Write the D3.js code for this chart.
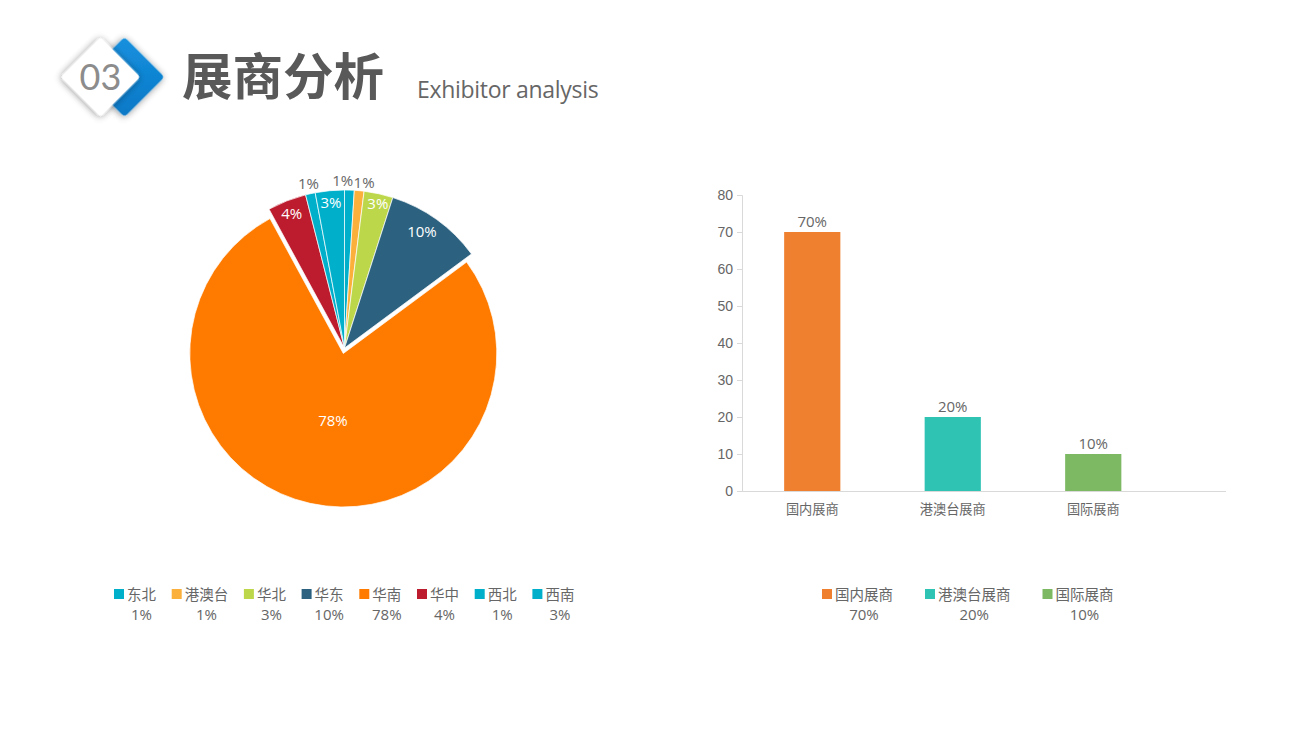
<!DOCTYPE html>
<html>
<head>
<meta charset="utf-8">
<script src="https://cdn.jsdelivr.net/npm/d3@7.9.0/dist/d3.min.js"></script>
<style>
  html, body { margin: 0; padding: 0; background: #fff; overflow: hidden; }
  text { font-family: "Open Sans", "Noto Sans CJK SC", sans-serif; fill: #666; }
  .cjk { font-family: "Noto Sans CJK SC", sans-serif; }
</style>
</head>
<body>
<svg id="chart" width="1300" height="730"></svg>
<script>
const regions = ['东北', '港澳台', '华北', '华东', '华南', '华中', '西北', '西南'];
const regionValues = [1, 1, 3, 10, 78, 4, 1, 3];
const regionColors = ['#00b0cb', '#fbb03b', '#bdd74b', '#2c6280', '#ff7b00', '#bc1c2e', '#00b0cb', '#00b0cb'];

const exhibitorTypes = ['国内展商', '港澳台展商', '国际展商'];
const exhibitorValues = [70, 20, 10];
const exhibitorColors = ['#ef8030', '#2fc3b4', '#7db963'];
const yTicks = [0, 10, 20, 30, 40, 50, 60, 70, 80];

const svg = d3.select('#chart');
const defs = svg.append('defs');

const shadow = defs.append('filter').attr('id', 'shadow')
  .attr('x', '-30%').attr('y', '-30%').attr('width', '160%').attr('height', '160%');
shadow.append('feDropShadow').attr('dx', 0).attr('dy', 1).attr('stdDeviation', 3.5)
  .attr('flood-color', '#000').attr('flood-opacity', 0.45);

const blue = defs.append('linearGradient').attr('id', 'blue')
  .attr('x1', 0).attr('y1', 0).attr('x2', 1).attr('y2', 1);
blue.append('stop').attr('offset', '0%').attr('stop-color', '#1590de');
blue.append('stop').attr('offset', '100%').attr('stop-color', '#0b78c6');

function diamond(cx, cy, half, fill) {
  const side = half * Math.SQRT2;
  svg.append('rect')
    .attr('x', -side / 2).attr('y', -side / 2)
    .attr('width', side).attr('height', side)
    .attr('rx', 4)
    .attr('transform', `translate(${cx},${cy}) rotate(45)`)
    .attr('fill', fill)
    .attr('filter', 'url(#shadow)');
}

// header
diamond(124.5, 77, 40, 'url(#blue)');
diamond(100.5, 77, 40, '#fff');
svg.append('text').attr('x', 100.5).attr('y', 90)
  .attr('text-anchor', 'middle').attr('font-size', 36)
  .style('font-family', 'Lato, "Open Sans", sans-serif').style('fill', '#8c8c8c')
  .text('03');
svg.append('text').attr('class', 'cjk').attr('x', 182).attr('y', 95)
  .attr('font-size', 50.5).attr('font-weight', 700).style('fill', '#595959').text('展商分析');
svg.append('text').attr('x', 417).attr('y', 98)
  .attr('font-size', 23).attr('letter-spacing', -0.3).text('Exhibitor analysis');

// pie
const pieCenter = [344.5, 348];
const pieRadius = 158;
const bigRadius = 153.5;
const bigOffset = 5.6;
const pie = d3.pie().sort(null).value(d => d);
const arc = d3.arc().innerRadius(0).outerRadius(d => d.value > 50 ? bigRadius : pieRadius);
const arcs = pie(regionValues);

// hand tweaks for the percent labels, by slice
const labelNudge = [[-7, 0], [4, 1], [2, -2], [-7, 2], [4, 3], [0, 1], [0, -1], [0, -1]];

function labelRadius(value) {
  if (value > 50) return 72;
  if (value === 1) return 167;
  return 145;
}

const pieG = svg.append('g').attr('transform', `translate(${pieCenter})`);

pieG.selectAll('path')
  .data(arcs)
  .join('path')
  .attr('d', arc)
  .attr('fill', (d, i) => regionColors[i])
  .attr('stroke', '#fff')
  .attr('stroke-width', 0.7)
  .attr('transform', d => {
    if (d.value < 50) return null;
    const mid = (d.startAngle + d.endAngle) / 2;
    return `translate(${Math.sin(mid) * bigOffset},${-Math.cos(mid) * bigOffset})`;
  });

pieG.selectAll('text')
  .data(arcs)
  .join('text')
  .attr('text-anchor', 'middle')
  .attr('font-size', 15)
  .attr('x', (d, i) => Math.sin((d.startAngle + d.endAngle) / 2) * labelRadius(d.value) + labelNudge[i][0])
  .attr('y', (d, i) => -Math.cos((d.startAngle + d.endAngle) / 2) * labelRadius(d.value) + 5 + labelNudge[i][1])
  .style('fill', d => d.value === 1 ? '#666' : '#fff')
  .text(d => d.value + '%');

// bars
const x = d3.scaleBand().domain(exhibitorTypes).range([742, 1163.5]).paddingInner(0.6).paddingOuter(0.3);
const y = d3.scaleLinear().domain([0, 80]).range([491, 195]);

svg.selectAll('rect.bar')
  .data(exhibitorValues)
  .join('rect')
  .attr('class', 'bar')
  .attr('x', (d, i) => x(exhibitorTypes[i]))
  .attr('y', d => y(d))
  .attr('width', x.bandwidth())
  .attr('height', d => y(0) - y(d))
  .attr('fill', (d, i) => exhibitorColors[i]);

svg.selectAll('text.barLabel')
  .data(exhibitorValues)
  .join('text')
  .attr('class', 'barLabel')
  .attr('x', (d, i) => x(exhibitorTypes[i]) + x.bandwidth() / 2)
  .attr('y', d => y(d) - 5.5)
  .attr('text-anchor', 'middle')
  .attr('font-size', 15)
  .text(d => d + '%');

const yAxis = svg.append('g')
  .attr('transform', 'translate(742,0)')
  .call(d3.axisLeft(y).tickValues(yTicks).tickSize(5).tickPadding(4).tickFormat(d3.format('d')));
yAxis.selectAll('path, line').attr('stroke', '#d9d9d9');
yAxis.selectAll('text')
  .attr('font-size', 14)
  .style('font-family', '"Liberation Sans", sans-serif')
  .style('fill', '#666');

const xAxis = svg.append('g')
  .attr('transform', 'translate(0,491)')
  .call(d3.axisBottom(x).tickSize(0).tickPadding(13.5));
xAxis.select('path').attr('stroke', '#d9d9d9').attr('d', 'M742,0.5H1226');
xAxis.selectAll('text')
  .attr('class', 'cjk')
  .attr('font-size', 13.2)
  .style('fill', '#666');

// legends
function legend(names, values, colors, startX, gap) {
  let cursor = startX;
  names.forEach((name, i) => {
    const textWidth = name.length * 14.5;
    svg.append('rect')
      .attr('x', cursor).attr('y', 589)
      .attr('width', 10).attr('height', 10)
      .attr('fill', colors[i]);
    svg.append('text').attr('class', 'cjk')
      .attr('x', cursor + 13).attr('y', 599.5)
      .attr('font-size', 14.5)
      .text(name);
    svg.append('text')
      .attr('x', cursor + 13 + textWidth / 2).attr('y', 619.5)
      .attr('text-anchor', 'middle')
      .attr('font-size', 15)
      .text(values[i] + '%');
    cursor += 13 + textWidth + gap;
  });
}

legend(regions, regionValues, regionColors, 114, 15.7);
legend(exhibitorTypes, exhibitorValues, exhibitorColors, 822, 32);
</script>
</body>
</html>
